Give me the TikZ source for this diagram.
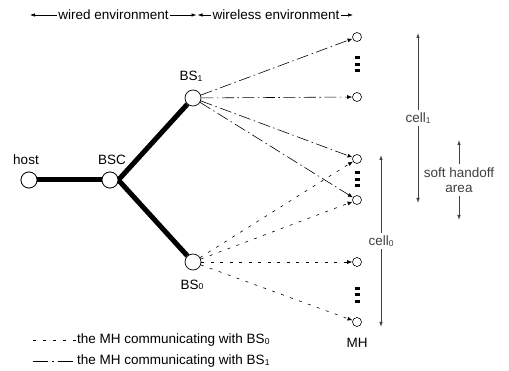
\documentclass[tikz,border=0pt]{standalone}
\usepackage{fontspec}
\setmainfont{Liberation Sans}
\usetikzlibrary{arrows.meta}
\newcommand{\lowidx}[1]{\raisebox{-0.6pt}{\fontsize{8.5}{9}\selectfont #1}}
\begin{document}
\begin{tikzpicture}[x=1pt,y=-1pt,
  font=\fontsize{13.5}{15.5}\selectfont,
  bignode/.style={circle,draw,fill=white,minimum size=16pt,inner sep=0pt,line width=0.7pt},
  mhnode/.style={circle,draw,fill=white,minimum size=9pt,inner sep=0pt,line width=0.6pt},
  lbl/.style={inner sep=1pt},
  wired/.style={line width=5pt},
  tip/.style={-{Latex[length=5pt,width=4pt]}},
  linkone/.style={tip,line width=0.6pt,dash pattern=on 12pt off 3.5pt on 1.5pt off 3.5pt},
  linkzero/.style={tip,line width=0.6pt,dash pattern=on 3pt off 6.5pt},
  span/.style={black!75,line width=0.8pt,{Latex[length=5pt,width=3.5pt]}-{Latex[length=5pt,width=3.5pt]}},
  envarrow/.style={line width=0.6pt,-{Latex[length=5pt,width=3.5pt]}}]
\useasboundingbox (0,0) rectangle (509,371);

% environment headings
\node[lbl] (wired) at (113.5,15) {wired environment};
\node[lbl] (wireless) at (276,15) {wireless environment};
\coordinate (wl) at (30,15);
\coordinate (wr) at (196.5,15);
\coordinate (sl) at (197.5,15);
\coordinate (sr) at (353,15);
\draw[envarrow] (wired.west) -- (wl);
\draw[envarrow] (wired.east) -- (wr);
\draw[envarrow] (wireless.west) -- (sl);
\draw[envarrow] (wireless.east) -- (sr);

% wired part
\node[bignode] (host) at (29,180) {};
\node[bignode] (bsc) at (110,180) {};
\node[bignode] (bs1) at (193,98) {};
\node[bignode] (bs0) at (193,262) {};
\node[lbl] at (26,160) {host};
\node[lbl] at (112,160) {BSC};
\node[lbl] at (191,76) {BS\lowidx{1}};
\node[lbl] at (192,285) {BS\lowidx{0}};

% mobile hosts
\node[mhnode] (m1) at (357,37) {};
\node[mhnode] (m2) at (357,97) {};
\node[mhnode] (m3) at (357,159) {};
\node[mhnode] (m4) at (357,200) {};
\node[mhnode] (m5) at (357,262) {};
\node[mhnode] (m6) at (357,322) {};
\node[lbl] (mhlabel) at (357,343) {MH};
\foreach \c in {64.5,179.5,295}{
  \foreach \d in {-6.5,0,6.5}{
    \fill (354.5,{\c+\d-1.5}) rectangle (359.5,{\c+\d+1.5});
  }
}

% wireless links
\foreach \m in {m1,m2,m3,m4}{\draw[linkone] (bs1) -- (\m);}
\foreach \m in {m3,m4,m5,m6}{\draw[linkzero] (bs0) -- (\m);}

% backbone
\draw[wired] (host) -- (bsc);
\draw[wired] (bsc.east) -- (bs1);
\draw[wired] (bsc.east) -- (bs0);
\node[bignode] at (bsc) {};
\node[bignode] at (host) {};

% cell extents
\coordinate (c1a) at (418,33);
\coordinate (c1b) at (418,203);
\coordinate (c0a) at (381,155);
\coordinate (c0b) at (381,327);
\coordinate (sha) at (459,140);
\coordinate (shb) at (459,220);
\draw[span] (c1a) -- (c1b) node[midway,fill=white,lbl,inner ysep=3pt] (cellone) {cell\lowidx{1}};
\draw[span] (c0a) -- (c0b) node[midway,fill=white,lbl,inner ysep=3pt] (cellzero) {cell\lowidx{0}};
\draw[span] (sha) -- (shb) node[midway,fill=white,lbl,align=center,inner ysep=3pt] (soft) {soft handoff\\area};

% legend
\coordinate (l0a) at (33,340);
\coordinate (l0b) at (76,340);
\coordinate (l1a) at (33,361);
\coordinate (l1b) at (76,361);
\draw[line width=0.6pt,dash pattern=on 3pt off 7pt] (l0a) -- (l0b);
\draw[line width=0.6pt,dash pattern=on 15pt off 4pt on 1.5pt off 4pt] (l1a) -- (l1b);
\node[lbl,anchor=west] (legzero) at (l0b) {the MH communicating with BS\lowidx{0}};
\node[lbl,anchor=west] (legone) at (l1b) {the MH communicating with BS\lowidx{1}};
\end{tikzpicture}
\end{document}
